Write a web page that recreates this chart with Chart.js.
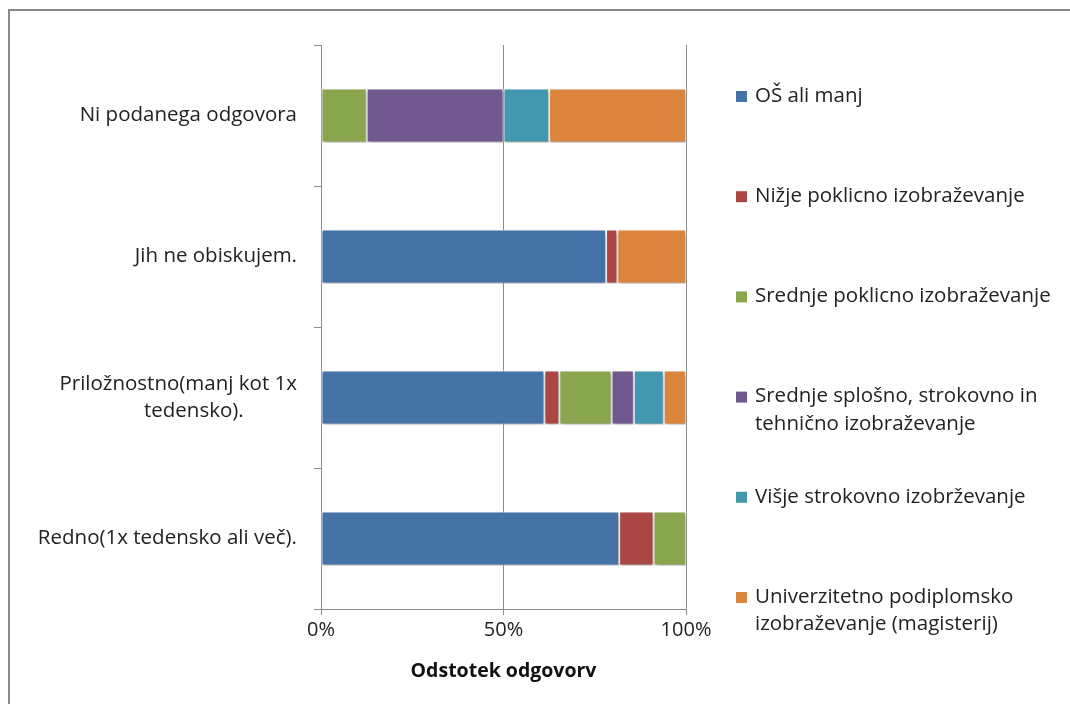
<!DOCTYPE html>
<html>
<head>
<meta charset="utf-8">
<script src="https://cdn.jsdelivr.net/npm/chart.js@4.4.1/dist/chart.umd.min.js"></script>
<style>
  body { margin: 0; background: #fff; }
  #wrap { position: relative; width: 1070px; height: 704px; overflow: hidden; }
  #frame { position: absolute; left: 8px; top: 9px; width: 1200px; height: 900px;
           border-left: 2px solid #8a8a8a; border-top: 2px solid #8a8a8a; }
  #chart { position: absolute; left: 0; top: 0; }
</style>
</head>
<body>
<div id="wrap">
  <div id="frame"></div>
  <canvas id="chart" width="1070" height="704"></canvas>
</div>
<script>
// Kategorije (od zgoraj navzdol)
const categories = [
    'Ni podanega odgovora',
    'Jih ne obiskujem.',
    ['Priložnostno(manj kot 1x', 'tedensko).' + '\u00a0'.repeat(10)],
    'Redno(1x tedensko ali več).'
];

// Serije (odstotki odgovorov)
const seriesNames = [
    'OŠ ali manj',
    'Nižje poklicno izobraževanje',
    'Srednje poklicno izobraževanje',
    ['Srednje splošno, strokovno in', 'tehnično izobraževanje'],
    'Višje strokovno izobrževanje',
    ['Univerzitetno podiplomsko', 'izobraževanje (magisterij)']
];
const osAliManj        = [0,    78.1, 61.2, 81.7];
const nizjePoklicno    = [0,    3.1,  4.1,  9.4];
const srednjePoklicno  = [12.5, 0,    14.3, 8.9];
const srednjeSplosno   = [37.5, 0,    6.1,  0];
const visjeStrokovno   = [12.5, 0,    8.2,  0];
const univerzitetno    = [37.5, 18.8, 6.1,  0];
const seriesColors = ['#4572A7', '#AA4643', '#89A54E', '#71588F', '#4198AF', '#DB843D'];

const xTicks = [0, 50, 100];

const fontFamily = '"Open Sans", Lato, sans-serif';
const textColor = '#222';

const allSeries = [osAliManj, nizjePoklicno, srednjePoklicno, srednjeSplosno, visjeStrokovno, univerzitetno];

// Senca pod stolpci
const shadowPlugin = {
    id: 'barShadow',
    beforeDatasetsDraw(chart) {
        const ctx = chart.ctx;
        ctx.save();
        ctx.shadowColor = 'rgba(0,0,0,0.35)';
        ctx.shadowBlur = 4;
        ctx.shadowOffsetX = 1;
        ctx.shadowOffsetY = 3;
    },
    afterDatasetsDraw(chart) {
        chart.ctx.restore();
    }
};

// Legenda desno (Excel razporedi vnose enakomerno)
const legendPlugin = {
    id: 'sideLegend',
    afterDraw(chart) {
        const ctx = chart.ctx;
        ctx.save();
        ctx.font = '20.5px ' + fontFamily;
        ctx.textBaseline = 'middle';
        ctx.textAlign = 'left';
        chart.data.datasets.forEach((ds, i) => {
            const y = 96 + i * 100.2;
            ctx.fillStyle = ds.backgroundColor;
            ctx.fillRect(736, y - 5, 11, 11);
            ctx.fillStyle = textColor;
            const lines = Array.isArray(ds.label) ? ds.label : [ds.label];
            lines.forEach((line, j) => ctx.fillText(line, 755, y + j * 27.5));
        });
        ctx.restore();
    }
};

const ctx = document.getElementById('chart').getContext('2d');
new Chart(ctx, {
    type: 'bar',
    data: {
        labels: categories,
        datasets: allSeries.map((values, i) => ({
            label: seriesNames[i],
            data: values,
            backgroundColor: seriesColors[i],
            borderColor: '#ffffff',
            borderWidth: 1,
            borderSkipped: false,
            barPercentage: 0.383,
            categoryPercentage: 1
        }))
    },
    options: {
        indexAxis: 'y',
        responsive: false,
        animation: false,
        layout: { padding: { top: 45, right: 384, bottom: 0, left: 0 } },
        plugins: {
            legend: { display: false },
            tooltip: { enabled: false }
        },
        scales: {
            x: {
                stacked: true,
                min: 0,
                max: 100,
                afterBuildTicks: (s) => { s.ticks = xTicks.map(v => ({ value: v })); },
                afterFit: (s) => { s.height = 95; },
                ticks: {
                    callback: (v) => v + '%',
                    color: textColor,
                    font: { family: fontFamily, size: 20 },
                    padding: 3
                },
                grid: { color: '#8c8c8c', lineWidth: 1, tickLength: 6, tickColor: '#8c8c8c' },
                border: { color: '#8c8c8c', width: 1 },
                title: {
                    display: true,
                    text: 'Odstotek odgovorv',
                    color: '#111',
                    font: { family: fontFamily, size: 19.5, weight: 'bold' },
                    padding: { top: 0, bottom: 21 }
                }
            },
            y: {
                stacked: true,
                afterFit: (s) => { s.width = 321; },
                ticks: {
                    color: textColor,
                    font: { family: fontFamily, size: 20.5, lineHeight: 1.34 },
                    padding: 17
                },
                grid: { drawOnChartArea: false, tickLength: 7, tickColor: '#8c8c8c', offset: true },
                border: { color: '#8c8c8c', width: 1 }
            }
        }
    },
    plugins: [shadowPlugin, legendPlugin]
});
</script>
</body>
</html>
